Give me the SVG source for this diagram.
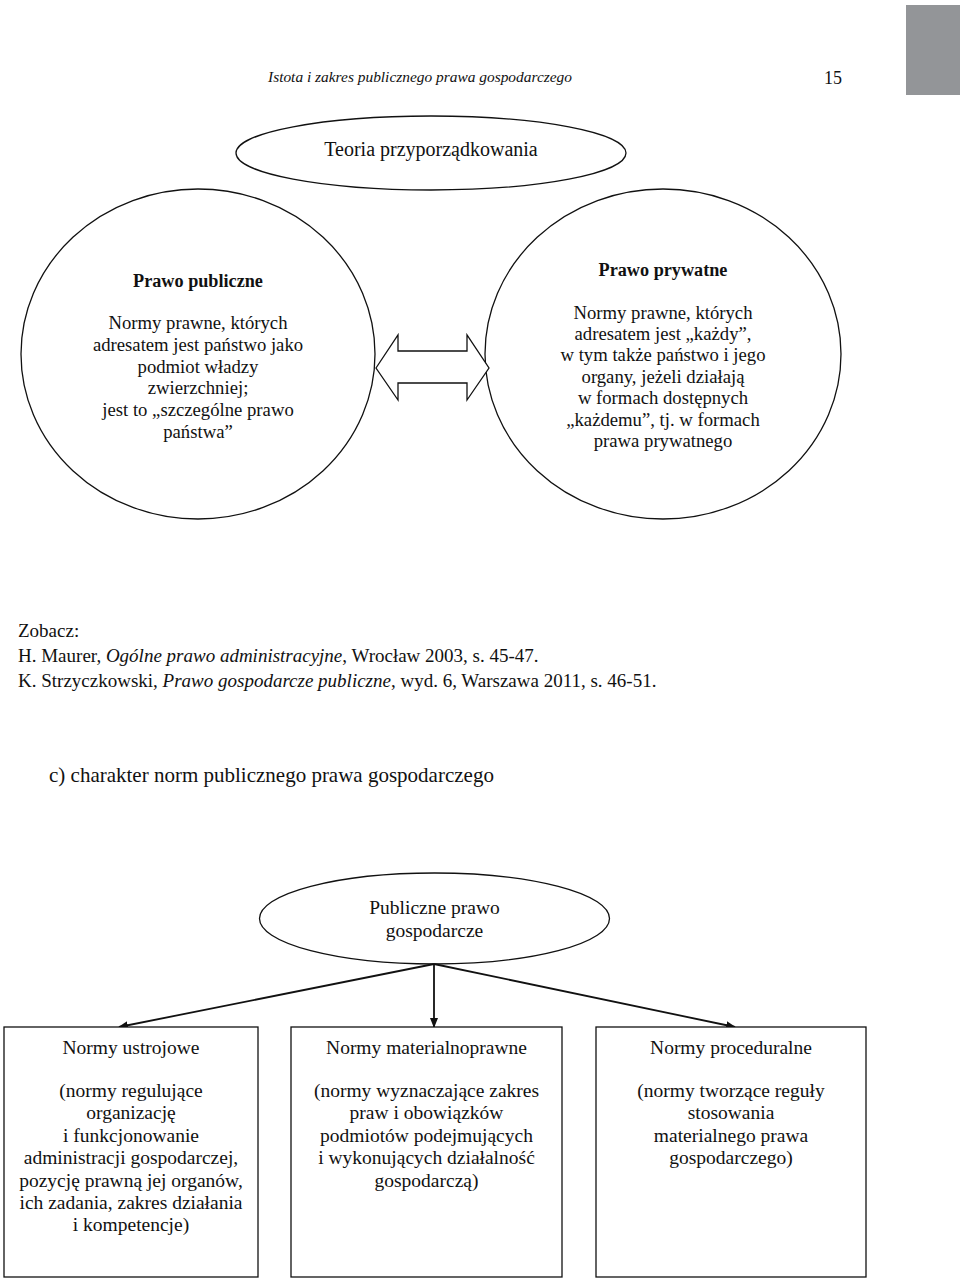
<svg xmlns="http://www.w3.org/2000/svg" width="960" height="1280" viewBox="0 0 960 1280">
<style>
text{font-family:"Liberation Serif","DejaVu Serif",serif;fill:#111;}
.c{text-anchor:middle;font-size:18.7px;}
.bx{text-anchor:middle;font-size:19.5px;}
.b{font-weight:bold;font-size:18.2px;}
.shape{fill:#fff;stroke:#111;stroke-width:1.3;}
.conn{stroke:#111;stroke-width:1.8;fill:none;}
.ref{font-size:19px;}
</style>
<defs>
<marker id="ah" markerWidth="10" markerHeight="10" refX="9" refY="5" orient="auto" markerUnits="userSpaceOnUse">
<path d="M0,1 L10,5 L0,9 Z" fill="#111"/>
</marker>
</defs>
<rect width="960" height="1280" fill="#fff"/>
<rect x="906" y="5" width="54" height="90" fill="#939598"/>
<text x="420" y="82" text-anchor="middle" font-size="15" font-style="italic" textLength="304" lengthAdjust="spacingAndGlyphs">Istota i zakres publicznego prawa gospodarczego</text>
<text x="833" y="84" text-anchor="middle" font-size="18">15</text>

<g id="teoria">
<ellipse class="shape" cx="431" cy="153" rx="195" ry="37"/>
<text x="431" y="156" text-anchor="middle" font-size="20">Teoria przyporządkowania</text>
</g>

<g id="prawo-publiczne">
<ellipse class="shape" cx="198" cy="354" rx="177" ry="165"/>
<text class="c b" x="198" y="287">Prawo publiczne</text>
<text class="c" x="198" y="329">Normy prawne, których</text>
<text class="c" x="198" y="351">adresatem jest państwo jako</text>
<text class="c" x="198" y="373">podmiot władzy</text>
<text class="c" x="198" y="394">zwierzchniej;</text>
<text class="c" x="198" y="416">jest to „szczególne prawo</text>
<text class="c" x="198" y="438">państwa”</text>
</g>

<g id="prawo-prywatne">
<ellipse class="shape" cx="663" cy="354" rx="178" ry="165"/>
<text class="c b" x="663" y="276">Prawo prywatne</text>
<text class="c" x="663" y="319">Normy prawne, których</text>
<text class="c" x="663" y="340">adresatem jest „każdy”,</text>
<text class="c" x="663" y="361">w tym także państwo i jego</text>
<text class="c" x="663" y="383">organy, jeżeli działają</text>
<text class="c" x="663" y="404">w formach dostępnych</text>
<text class="c" x="663" y="426">„każdemu”, tj. w formach</text>
<text class="c" x="663" y="447">prawa prywatnego</text>
</g>

<g id="connectors-top">
<polygon class="shape" points="376,368 398,335 398,351 467,351 467,335 489,368 467,400 467,383 398,383 398,400"/>
</g>

<g id="zobacz">
<text class="ref" x="18" y="637">Zobacz:</text>
<text class="ref" x="18" y="662">H. Maurer, <tspan font-style="italic">Ogólne prawo administracyjne</tspan>, Wrocław 2003, s. 45-47.</text>
<text class="ref" x="18" y="687">K. Strzyczkowski, <tspan font-style="italic">Prawo gospodarcze publiczne</tspan>, wyd. 6, Warszawa 2011, s. 46-51.</text>
<text x="49" y="782" font-size="21">c) charakter norm publicznego prawa gospodarczego</text>
</g>

<g id="publiczne-prawo">
<ellipse class="shape" cx="434.5" cy="918.5" rx="175" ry="45.5"/>
<text class="bx" x="434.5" y="914">Publiczne prawo</text>
<text class="bx" x="434.5" y="937">gospodarcze</text>
</g>

<g id="connectors">
<line class="conn" x1="434" y1="964" x2="119" y2="1027" marker-end="url(#ah)"/>
<line class="conn" x1="434" y1="964" x2="434" y2="1027" marker-end="url(#ah)"/>
<line class="conn" x1="434" y1="964" x2="735" y2="1027" marker-end="url(#ah)"/>
</g>

<g id="normy-ustrojowe">
<rect class="shape" x="4" y="1027" width="254" height="250"/>
<text class="bx" x="131" y="1054">Normy ustrojowe</text>
<text class="bx" x="131" y="1097">(normy regulujące</text>
<text class="bx" x="131" y="1119">organizację</text>
<text class="bx" x="131" y="1142">i funkcjonowanie</text>
<text class="bx" x="131" y="1164">administracji gospodarczej,</text>
<text class="bx" x="131" y="1187">pozycję prawną jej organów,</text>
<text class="bx" x="131" y="1209">ich zadania, zakres działania</text>
<text class="bx" x="131" y="1231">i kompetencje)</text>
</g>

<g id="normy-materialnoprawne">
<rect class="shape" x="291" y="1027" width="271" height="250"/>
<text class="bx" x="426.5" y="1054">Normy materialnoprawne</text>
<text class="bx" x="426.5" y="1097">(normy wyznaczające zakres</text>
<text class="bx" x="426.5" y="1119">praw i obowiązków</text>
<text class="bx" x="426.5" y="1142">podmiotów podejmujących</text>
<text class="bx" x="426.5" y="1164">i wykonujących działalność</text>
<text class="bx" x="426.5" y="1187">gospodarczą)</text>
</g>

<g id="normy-proceduralne">
<rect class="shape" x="596" y="1027" width="270" height="250"/>
<text class="bx" x="731" y="1054">Normy proceduralne</text>
<text class="bx" x="731" y="1097">(normy tworzące reguły</text>
<text class="bx" x="731" y="1119">stosowania</text>
<text class="bx" x="731" y="1142">materialnego prawa</text>
<text class="bx" x="731" y="1164">gospodarczego)</text>
</g>
</svg>
